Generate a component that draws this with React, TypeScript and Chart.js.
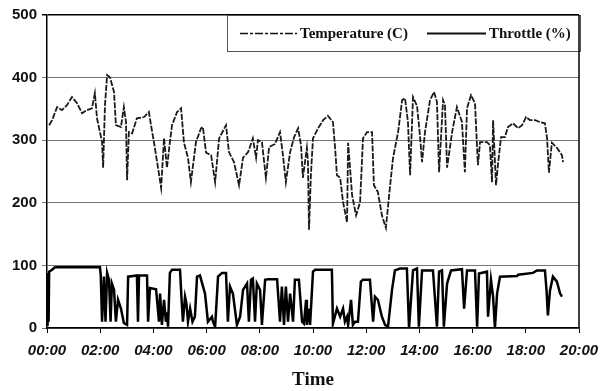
import React, { useEffect, useRef } from 'react';
import { Chart, registerables } from 'chart.js';
Chart.register(...registerables);

// Time in hours since 00:00
const tempHours = [
  0.08, 0.19, 0.38, 0.56, 0.75, 0.94, 1.13, 1.32, 1.5, 1.69, 1.8, 1.88, 2.07, 2.11, 2.18, 2.26, 2.37, 2.52, 2.59, 2.78,
  2.89, 2.97, 3.01, 3.08, 3.2, 3.38, 3.65, 3.83, 3.91, 4.02, 4.14, 4.29, 4.4, 4.51, 4.62, 4.7, 4.89, 5.04, 5.15, 5.3,
  5.41, 5.6, 5.79, 5.86, 5.98, 6.17, 6.32, 6.47, 6.73, 6.84, 7.03, 7.22, 7.37, 7.56, 7.74, 7.86, 7.93, 8.08, 8.23, 8.35,
  8.57, 8.76, 8.87, 8.98, 9.14, 9.29, 9.44, 9.55, 9.62, 9.77, 9.81, 9.85, 9.92, 10.0, 10.19, 10.38, 10.56, 10.75, 10.83, 10.9,
  11.02, 11.13, 11.28, 11.32, 11.47, 11.62, 11.77, 11.88, 12.03, 12.22, 12.29, 12.44, 12.59, 12.74, 12.89, 13.01, 13.2, 13.35, 13.46, 13.57,
  13.65, 13.76, 13.91, 14.02, 14.1, 14.21, 14.4, 14.55, 14.66, 14.74, 14.89, 14.96, 15.04, 15.23, 15.41, 15.6, 15.71, 15.79, 15.94, 16.09,
  16.2, 16.28, 16.54, 16.65, 16.73, 16.77, 16.88, 16.95, 17.07, 17.22, 17.33, 17.52, 17.71, 17.86, 18.01, 18.16, 18.35, 18.53, 18.72, 18.8,
  18.87, 18.98, 19.17, 19.36, 19.4,
];
const tempValues = [
  324, 332, 353, 348, 356, 369, 359, 343, 348, 351, 375, 335, 297, 256, 356, 404, 400, 377, 324, 321,
  353, 329, 236, 313, 311, 335, 337, 345, 324, 297, 265, 224, 303, 256, 297, 324, 345, 351, 296, 272,
  233, 297, 319, 321, 280, 276, 233, 303, 324, 281, 265, 228, 272, 281, 303, 272, 300, 297, 240, 289,
  294, 313, 276, 233, 281, 305, 319, 292, 240, 288, 265, 157, 244, 303, 319, 332, 339, 329, 288, 244,
  240, 201, 169, 296, 212, 180, 201, 303, 313, 313, 228, 217, 180, 160, 224, 272, 313, 364, 367, 329,
  244, 369, 355, 308, 265, 313, 364, 377, 361, 249, 364, 356, 256, 313, 353, 329, 249, 351, 372, 359,
  260, 297, 297, 292, 233, 332, 228, 260, 305, 305, 321, 327, 319, 324, 337, 332, 332, 329, 327, 303,
  248, 296, 288, 276, 265,
];

const throttleHours = [
  0.02, 0.04, 0.06, 0.08, 0.19, 0.3, 1.99, 2.02, 2.07, 2.14, 2.2, 2.26, 2.33, 2.39, 2.44, 2.52, 2.59, 2.67, 2.78, 2.89,
  3.01, 3.05, 3.38, 3.42, 3.46, 3.76, 3.8, 3.87, 4.1, 4.21, 4.25, 4.32, 4.4, 4.47, 4.51, 4.55, 4.62, 4.7, 5.0, 5.06,
  5.11, 5.19, 5.24, 5.3, 5.38, 5.47, 5.56, 5.64, 5.75, 5.94, 6.05, 6.2, 6.24, 6.32, 6.43, 6.58, 6.73, 6.8, 6.88, 6.99,
  7.14, 7.26, 7.37, 7.52, 7.59, 7.67, 7.74, 7.82, 7.89, 8.01, 8.08, 8.2, 8.31, 8.65, 8.76, 8.83, 8.91, 8.98, 9.06, 9.14,
  9.25, 9.32, 9.47, 9.59, 9.66, 9.74, 9.77, 9.83, 9.89, 10.0, 10.08, 10.71, 10.75, 10.9, 11.02, 11.13, 11.2, 11.28, 11.32, 11.43,
  11.5, 11.58, 11.69, 11.8, 11.88, 12.14, 12.26, 12.33, 12.44, 12.59, 12.71, 12.82, 12.97, 13.08, 13.27, 13.53, 13.61, 13.76, 13.91, 13.98,
  14.1, 14.51, 14.66, 14.74, 14.85, 14.92, 15.04, 15.19, 15.6, 15.68, 15.79, 16.09, 16.17, 16.24, 16.54, 16.58, 16.69, 16.77, 16.84, 16.92,
  17.03, 17.67, 17.71, 18.27, 18.42, 18.72, 18.78, 18.83, 18.91, 19.02, 19.17, 19.29, 19.36,
];
const throttleValues = [
  3, 88, 10, 90, 93, 97, 97, 85, 10, 82, 10, 88, 77, 10, 71, 61, 10, 45, 31, 8,
  5, 82, 84, 10, 84, 84, 10, 64, 62, 10, 55, 5, 45, 10, 25, 2, 88, 93, 93, 45,
  10, 50, 40, 10, 31, 10, 18, 82, 84, 55, 10, 18, 10, 2, 82, 88, 88, 10, 66, 55,
  5, 18, 61, 71, 10, 77, 79, 10, 71, 61, 5, 77, 78, 78, 10, 66, 5, 66, 10, 55,
  10, 77, 77, 10, 7, 45, 5, 31, 5, 90, 93, 93, 7, 31, 18, 31, 10, 18, 5, 45,
  5, 10, 10, 74, 77, 77, 10, 50, 45, 18, 5, 2, 61, 92, 95, 95, 0, 92, 95, 2,
  92, 92, 2, 90, 92, 2, 71, 92, 94, 31, 92, 92, 2, 87, 90, 18, 77, 50, 0, 55,
  82, 83, 85, 88, 92, 92, 60, 20, 60, 82, 74, 55, 50,
];

const seriesLabels = ['Temperature (C)', 'Throttle (%)'];
const xTickValues = [0, 2, 4, 6, 8, 10, 12, 14, 16, 18, 20];
const xTickLabels = ['00:00', '02:00', '04:00', '06:00', '08:00', '10:00', '12:00', '14:00', '16:00', '18:00', '20:00'];
const yTickValues = [0, 100, 200, 300, 400, 500];
const xAxisTitle = 'Time';

const TEMP_DASH = [6, 1.5];
const LEGEND_DASHES = [[8, 2, 3, 2], []];

const boxLegend = {
  id: 'boxLegend',
  afterDatasetsDraw(chart: any) {
    const { ctx, chartArea } = chart;
    const w = 354;
    const h = 37;
    const right = chartArea.right + 2;
    const left = right - w;
    const top = chartArea.top;
    ctx.save();
    ctx.fillStyle = '#ffffff';
    ctx.fillRect(left, top, w, h);
    ctx.strokeStyle = '#555';
    ctx.lineWidth = 1;
    ctx.strokeRect(left + 0.5, top + 0.5, w - 1, h - 1);
    const cy = top + h / 2;
    const offsets = [13, 200];
    const lens = [57, 59];
    chart.data.datasets.forEach((ds: any, i: number) => {
      const x0 = left + offsets[i];
      ctx.beginPath();
      ctx.setLineDash(LEGEND_DASHES[i]);
      ctx.strokeStyle = '#111';
      ctx.lineWidth = i === 0 ? 1.5 : 2;
      ctx.moveTo(x0, cy);
      ctx.lineTo(x0 + lens[i], cy);
      ctx.stroke();
      ctx.setLineDash([]);
      ctx.fillStyle = '#111';
      ctx.font = 'bold 15px "Liberation Serif", serif';
      ctx.textBaseline = 'middle';
      ctx.textAlign = 'left';
      ctx.fillText(ds.label, x0 + lens[i] + 3, cy + 1);
    });
    // right frame line
    ctx.beginPath();
    ctx.strokeStyle = '#000';
    ctx.lineWidth = 1.5;
    ctx.moveTo(chartArea.right, chartArea.top);
    ctx.lineTo(chartArea.right, chartArea.bottom);
    ctx.stroke();
    ctx.restore();
  },
};

export default function App() {
  const ref = useRef<HTMLCanvasElement | null>(null);
  useEffect(() => {
    document.body.style.margin = '0';
    if (!ref.current) return;
    const chart = new Chart(ref.current, {
      type: 'line',
      data: {
        datasets: [
          {
            label: seriesLabels[0],
            data: tempHours.map((x, i) => ({ x, y: tempValues[i] })),
            borderColor: '#1a1a1a',
            borderWidth: 1.8,
            borderDash: TEMP_DASH,
            pointRadius: 0,
            tension: 0,
            fill: false,
          },
          {
            label: seriesLabels[1],
            data: throttleHours.map((x, i) => ({ x, y: throttleValues[i] })),
            borderColor: '#000',
            borderWidth: 2.5,
            pointRadius: 0,
            tension: 0,
            fill: false,
          },
        ],
      },
      options: {
        animation: false,
        responsive: false,
        layout: { padding: { left: 0, right: 21, top: 15, bottom: 0 } },
        plugins: {
          legend: { display: false },
          tooltip: { enabled: false },
        },
        scales: {
          x: {
            type: 'linear',
            min: 0,
            max: 20,
            afterBuildTicks: (axis: any) => {
              axis.ticks = xTickValues.map((v) => ({ value: v }));
            },
            afterFit: (axis: any) => {
              axis.height = 63;
              axis.paddingLeft = 0;
              axis.paddingRight = 0;
            },
            ticks: {
              padding: 9,
              maxRotation: 0,
              color: '#111',
              font: { family: '"Liberation Sans", Arial, sans-serif', size: 15, weight: 'bold', style: 'italic' },
              callback: (v: any) => {
                const i = xTickValues.indexOf(Number(v));
                return i >= 0 ? xTickLabels[i] : '';
              },
            },
            grid: { drawOnChartArea: false, drawTicks: true, tickLength: 5, color: '#000', lineWidth: 1 },
            border: { display: true, color: '#000', width: 1.5 },
            title: {
              display: true,
              text: xAxisTitle,
              color: '#111',
              padding: { top: 0, bottom: 0 },
              font: { family: '"Liberation Serif", "Times New Roman", serif', size: 19, weight: 'bold' },
            },
          },
          y: {
            type: 'linear',
            min: 0,
            max: 500,
            afterBuildTicks: (axis: any) => {
              axis.ticks = yTickValues.map((v) => ({ value: v }));
            },
            afterFit: (axis: any) => {
              axis.width = 47;
              axis.paddingTop = 0;
              axis.paddingBottom = 0;
            },
            ticks: {
              padding: 5,
              color: '#111',
              font: { family: '"Liberation Sans", Arial, sans-serif', size: 15, weight: 'bold' },
            },
            grid: {
              drawTicks: true,
              tickLength: 5,
              color: (c: any) => (c.tick && c.tick.value === 500 ? '#000' : '#777'),
              lineWidth: (c: any) => (c.tick && c.tick.value === 500 ? 1.5 : 1),
            },
            border: { display: true, color: '#000', width: 1.5 },
          },
        },
      },
      plugins: [boxLegend],
    });
    return () => chart.destroy();
  }, []);
  return (
    <div style={{ width: 600, height: 391, background: '#fff' }}>
      <canvas ref={ref} width={600} height={391} style={{ display: 'block' }} />
    </div>
  );
}
